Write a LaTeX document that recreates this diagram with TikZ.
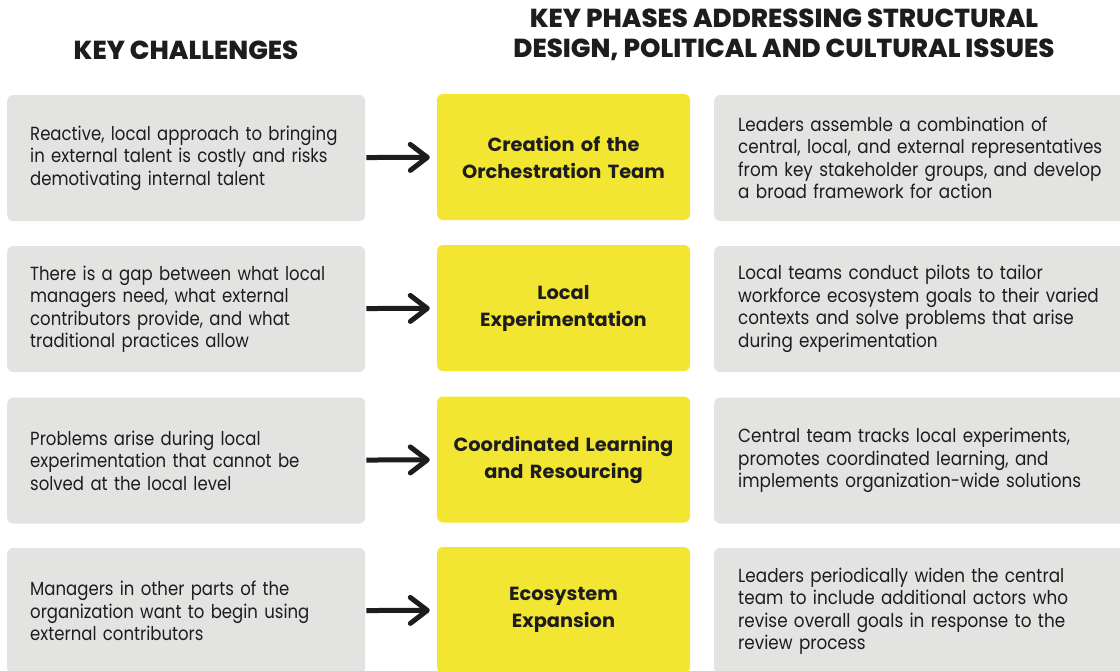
\documentclass[tikz,border=0pt]{standalone}
\usepackage{fontspec}
\setmainfont{Poppins}
\newfontfamily\leftfont[FakeStretch=0.87]{Poppins}
\newfontfamily\bodyfont[FakeStretch=0.885]{Poppins}
\newfontfamily\phasefont[FakeStretch=1.02]{Poppins Bold}
\newfontfamily\headfont[FakeStretch=1.0]{Poppins ExtraBold}
\usetikzlibrary{arrows.meta}
\definecolor{boxgray}{HTML}{E3E3E2}
\definecolor{boxyellow}{HTML}{F2E632}
\definecolor{ink}{HTML}{1D1D1F}
\tikzset{
  chal/.style={fill=boxgray, rounded corners=6pt, minimum height=126pt, text width=312pt, inner xsep=23pt, inner ysep=0pt, align=left, text=ink, anchor=west, font=\leftfont\fontsize{19}{22.5}\selectfont},
  phase/.style={fill=boxyellow, rounded corners=6pt, minimum height=126pt, minimum width=253pt, text width=240pt, inner xsep=6.5pt, inner ysep=0pt, align=center, text=ink, font=\phasefont\fontsize{19}{27}\selectfont},
  desc/.style={fill=boxgray, rounded corners=6pt, minimum height=126pt, text width=372pt, inner xsep=24pt, inner ysep=0pt, align=left, text=ink, anchor=west, font=\bodyfont\fontsize{19}{22.5}\selectfont},
  head/.style={text=ink, align=center, inner sep=0pt, font=\headfont\fontsize{26}{29.5}\selectfont},
  arr/.style={draw=ink, line width=5pt, shorten >=7pt, shorten <=1pt, -{Straight Barb[length=17pt,width=26pt,line cap=round,line join=round]}}
}
\begin{document}
\begin{tikzpicture}[x=1pt,y=1pt]
\useasboundingbox[fill=white] (0,0) rectangle (1120,-670);
\begin{scope}
\clip (0,0) rectangle (1120,-670);
\node[head] (h1) at (186,-50) {KEY CHALLENGES};
\node[head] (h2) at (784,-35) {KEY PHASES ADDRESSING STRUCTURAL\\DESIGN, POLITICAL AND CULTURAL ISSUES};

\node[chal] (l1) at (7,-158) {Reactive, local approach to bringing\\in external talent is costly and risks\\demotivating internal talent};
\node[phase] (y1) at (563.5,-157) {Creation of the\\Orchestration Team};
\node[desc] (r1) at (714,-158) {Leaders assemble a combination of\\central, local, and external representatives\\from key stakeholder groups, and develop\\a broad framework for action};

\node[chal] (l2) at (7,-309) {There is a gap between what local\\managers need, what external\\contributors provide, and what\\traditional practices allow};
\node[phase] (y2) at (563.5,-308) {Local\\Experimentation};
\node[desc] (r2) at (714,-309) {Local teams conduct pilots to tailor\\workforce ecosystem goals to their varied\\contexts and solve problems that arise\\during experimentation};

\node[chal] (l3) at (7,-460.5) {Problems arise during local\\experimentation that cannot be\\solved at the local level};
\node[phase] (y3) at (563.5,-459.5) {Coordinated Learning\\and Resourcing};
\node[desc] (r3) at (714,-460.5) {Central team tracks local experiments,\\promotes coordinated learning, and\\implements organization-wide solutions};

\node[chal] (l4) at (7,-611) {Managers in other parts of the\\organization want to begin using\\external contributors};
\node[phase] (y4) at (563.5,-610) {Ecosystem\\Expansion};
\node[desc] (r4) at (714,-611) {Leaders periodically widen the central\\team to include additional actors who\\revise overall goals in response to the\\review process};

\draw[arr] (l1) -- (y1);
\draw[arr] (l2) -- (y2);
\draw[arr] (l3) -- (y3);
\draw[arr] (l4) -- (y4);
\end{scope}
\end{tikzpicture}
\end{document}
